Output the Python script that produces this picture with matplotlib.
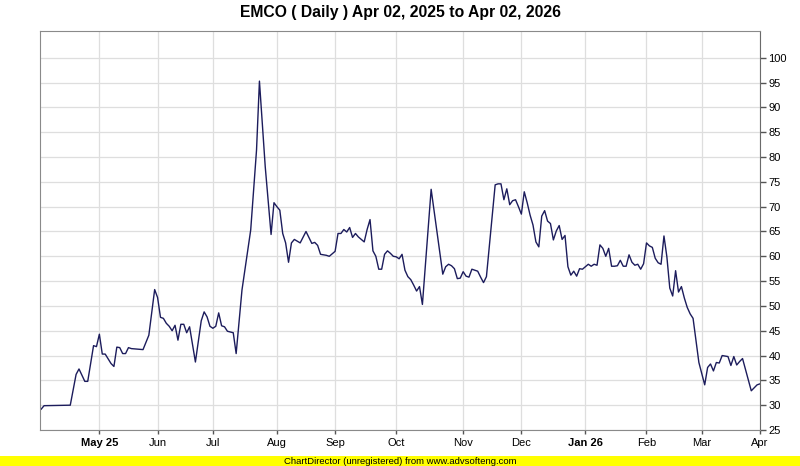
import matplotlib
matplotlib.use("Agg")
import matplotlib.pyplot as plt
from matplotlib.patches import Rectangle

# trading-day offset from Apr 02, 2025 and closing price at the visible turning points
day = [0, 1, 10, 12, 13, 15, 16, 18, 19, 20, 21, 22, 24, 25, 26, 27, 28, 29, 30, 31,
       35, 37, 39, 40, 41, 42, 43, 44, 45, 46, 47, 48, 49, 50, 51, 53, 55, 56, 57, 58,
       59, 60, 61, 62, 63, 64, 66, 67, 69, 72, 74, 75, 77, 79, 80, 81, 82, 83, 84, 85,
       86, 87, 89, 91, 93, 94, 95, 96, 98, 99, 101, 102, 103, 104, 105, 106, 107, 108, 109, 111,
       112, 113, 114, 115, 116, 117, 118, 119, 120, 121, 122, 123, 124, 125, 126, 127, 128, 129, 130, 131,
       134, 138, 139, 140, 141, 142, 143, 144, 145, 146, 147, 148, 150, 151, 152, 153, 156, 157, 158, 159,
       160, 161, 162, 163, 164, 165, 166, 167, 168, 169, 170, 171, 172, 173, 174, 175, 176, 177, 178, 179,
       180, 181, 182, 183, 184, 185, 186, 187, 188, 189, 190, 191, 192, 193, 194, 195, 196, 197, 198, 199,
       200, 201, 202, 203, 204, 205, 206, 207, 208, 209, 210, 211, 212, 213, 214, 215, 216, 217, 218, 219,
       220, 221, 222, 223, 224, 226, 228, 229, 230, 231, 232, 233, 234, 236, 237, 238, 239, 240, 241, 244,
       246, 247]
close = [29.2, 29.9, 30.0, 36.2, 37.3, 34.8, 34.8, 42.0, 41.8, 44.3, 40.3, 40.3, 38.4, 37.8, 41.7, 41.6, 40.4, 40.4, 41.6, 41.4,
         41.2, 44.1, 53.3, 51.7, 47.7, 47.5, 46.5, 45.9, 45.0, 46.1, 43.1, 46.3, 46.3, 44.6, 45.8, 38.7, 47.0, 48.8, 47.8, 45.9,
         45.5, 45.9, 48.6, 46.0, 45.8, 44.9, 44.6, 40.4, 53.2, 65.3, 81.4, 95.3, 78.0, 64.4, 70.8, 70.0, 69.3, 64.6, 62.7, 58.8,
         62.7, 63.4, 62.7, 65.0, 62.6, 62.8, 62.2, 60.4, 60.2, 60.0, 61.0, 64.6, 64.6, 65.4, 64.9, 65.8, 63.8, 64.6, 63.9, 62.9,
         65.4, 67.4, 61.1, 60.0, 57.4, 57.4, 60.4, 61.1, 60.6, 60.0, 59.9, 59.5, 60.4, 57.2, 55.9, 55.3, 54.2, 53.0, 53.9, 50.3,
         73.5, 56.4, 57.9, 58.4, 58.1, 57.5, 55.5, 55.6, 56.9, 56.0, 55.8, 57.4, 57.0, 55.8, 54.7, 55.9, 74.4, 74.6, 74.6, 71.4,
         73.6, 70.4, 71.2, 71.4, 70.0, 68.5, 73.0, 70.8, 68.3, 66.3, 62.9, 61.9, 68.1, 69.2, 67.1, 66.6, 63.3, 65.1, 66.2, 63.4,
         64.2, 57.9, 56.2, 57.0, 56.0, 57.5, 57.4, 57.9, 58.4, 58.0, 58.4, 58.2, 62.3, 61.6, 60.0, 61.6, 58.0, 58.0, 58.1, 59.2,
         58.0, 58.0, 60.3, 58.8, 58.2, 58.4, 57.4, 58.5, 62.7, 62.1, 61.8, 59.6, 58.7, 58.4, 64.1, 59.9, 53.6, 52.0, 57.1, 52.8,
         53.9, 51.6, 49.7, 48.4, 47.5, 38.6, 34.1, 37.6, 38.3, 36.9, 38.6, 38.5, 40.0, 39.8, 38.0, 39.8, 38.1, 38.8, 39.4, 32.9,
         34.1, 34.3]

# first trading day of each month (offset) and its label
month_day = [20, 40, 59, 81, 101, 122, 145, 165, 187, 208, 227, 247]
month_lbl = ["May 25", "Jun", "Jul", "Aug", "Sep", "Oct", "Nov", "Dec", "Jan 26", "Feb", "Mar", "Apr"]

y_ticks = list(range(25, 105, 5))

plt.rcParams["font.family"] = ["Liberation Sans", "DejaVu Sans"]

W, H = 800, 466
fig = plt.figure(figsize=(W / 100, H / 100), dpi=100)
ax = fig.add_axes([40 / W, (H - 430) / H, 720 / W, 399.5 / H])

ax.plot(day, close, color="#1c1c5c", linewidth=1.0)

ax.set_xlim(-0.4, 247)
ax.set_ylim(25, 105.5)

ax.yaxis.tick_right()
ax.set_yticks(y_ticks)
ax.set_yticklabels([str(v) for v in y_ticks], fontsize=8)
ax.set_xticks(month_day)
ax.set_xticklabels(month_lbl, fontsize=8)
for lbl in ax.get_xticklabels():
    if " " in lbl.get_text():
        lbl.set_fontweight("bold")

ax.tick_params(axis="y", length=4, width=1, color="#555555", pad=2, labelcolor="#000000")
ax.tick_params(axis="x", length=3, width=1, color="#555555", pad=3, labelcolor="#000000")

ax.grid(True, color="#dedede", linewidth=0.9)
ax.set_axisbelow(True)
for side in ["left", "top", "bottom"]:
    ax.spines[side].set_color("#8a8a8a")
ax.spines["right"].set_color("#6a6a6a")

fig.text(0.5, 1 - 12 / H, "EMCO ( Daily ) Apr 02, 2025 to Apr 02, 2026",
         ha="center", va="center", fontsize=11.3, fontweight="bold")

# unregistered banner at the bottom
fig.patches.append(Rectangle((0, 0), 1, 10 / H, transform=fig.transFigure,
                             facecolor="#ffff00", edgecolor="none"))
fig.text(0.5, 5 / H, "ChartDirector (unregistered) from www.advsofteng.com",
         ha="center", va="center", fontsize=6.8, color="#000000")

fig.savefig("out.png", dpi=100)
